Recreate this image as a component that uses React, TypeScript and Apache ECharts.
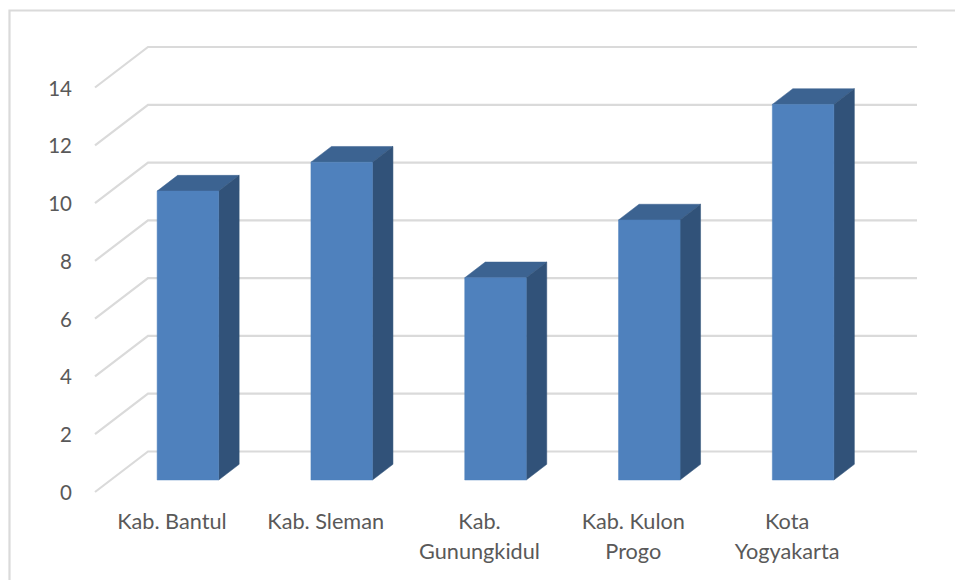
import React, { useEffect, useRef } from "react";
import * as echarts from "echarts";

const categories = ["Kab. Bantul", "Kab. Sleman", "Kab.\nGunungkidul", "Kab. Kulon\nProgo", "Kota\nYogyakarta"];
const seriesValues = [10, 11, 7, 9, 13];
const tickValues = [0, 2, 4, 6, 8, 10, 12, 14];

const WALL_DX = 53;
const WALL_DY = 40.5;
const BAR_SHIFT_X = 16;
const BAR_SHIFT_Y = 12;
const BAR_DEPTH_X = 20.5;
const BAR_DEPTH_Y = 15.7;
const BAR_RATIO = 0.4;

const GRID_COLOR = "#DADADA";
const TEXT_COLOR = "#595959";
const FRONT_COLOR = "#4F81BD";
const SIDE_COLOR = "#315279";
const TOP_COLOR = "#3C6391";

// Floor-to-wall gridline: a diagonal up the side wall, then across the back wall.
function renderGridLine(params: any, api: any) {
  const cs = params.coordSys;
  const y = api.coord([0, api.value(1)])[1];
  return {
    type: "polyline",
    silent: true,
    shape: {
      points: [
        [cs.x, y],
        [cs.x + WALL_DX, y - WALL_DY],
        [cs.x + WALL_DX + cs.width, y - WALL_DY],
      ],
    },
    style: { stroke: GRID_COLOR, lineWidth: 2.2, fill: "none" },
  };
}

// Extruded column: front face plus top and side faces, stroked in their own fill to close seams.
function renderColumn(params: any, api: any) {
  const top = api.coord([api.value(0), api.value(1)]);
  const base = api.coord([api.value(0), 0]);
  const width = api.size([1, 0])[0] * BAR_RATIO;
  const l = top[0] - width / 2 + BAR_SHIFT_X;
  const r = l + width;
  const t = top[1] - BAR_SHIFT_Y;
  const b = base[1] - BAR_SHIFT_Y;
  return {
    type: "group",
    children: [
      {
        type: "polygon",
        shape: { points: [[l, t], [l + BAR_DEPTH_X, t - BAR_DEPTH_Y], [r + BAR_DEPTH_X, t - BAR_DEPTH_Y], [r, t]] },
        style: { fill: TOP_COLOR, stroke: TOP_COLOR, lineWidth: 0.5 },
      },
      {
        type: "polygon",
        shape: { points: [[r, t], [r + BAR_DEPTH_X, t - BAR_DEPTH_Y], [r + BAR_DEPTH_X, b - BAR_DEPTH_Y], [r, b]] },
        style: { fill: SIDE_COLOR, stroke: SIDE_COLOR, lineWidth: 0.5 },
      },
      {
        type: "polygon",
        shape: { points: [[l, t], [r, t], [r, b], [l, b]] },
        style: { fill: FRONT_COLOR, stroke: FRONT_COLOR, lineWidth: 0.5 },
      },
    ],
  };
}

export default function App() {
  const ref = useRef<HTMLDivElement>(null);

  useEffect(() => {
    const chart = echarts.init(ref.current!, undefined, { renderer: "svg" });
    chart.setOption({
      animation: false,
      backgroundColor: "#FFFFFF",
      textStyle: { fontFamily: "Lato" },
      grid: { left: 95, right: 91, top: 87.5, bottom: 88 },
      graphic: [
        {
          type: "rect",
          silent: true,
          shape: { x: 9.5, y: 10.5, width: 1000, height: 620 },
          style: { fill: "none", stroke: GRID_COLOR, lineWidth: 2.2 },
        },
      ],
      xAxis: {
        type: "category",
        data: categories,
        axisLine: { show: false },
        axisTick: { show: false },
        axisLabel: { color: TEXT_COLOR, fontSize: 21.7, fontFamily: "Lato", lineHeight: 30, margin: 14, interval: 0 },
      },
      yAxis: {
        type: "value",
        min: 0,
        max: 14,
        interval: 2,
        axisLine: { show: false },
        axisTick: { show: false },
        splitLine: { show: false },
        axisLabel: { color: TEXT_COLOR, fontSize: 20.5, fontFamily: "Lato", margin: 23 },
      },
      series: [
        {
          type: "custom",
          z: 1,
          clip: false,
          silent: true,
          renderItem: renderGridLine,
          encode: { x: 0, y: 1 },
          data: tickValues.map((v) => [0, v]),
        },
        {
          type: "custom",
          z: 2,
          clip: false,
          silent: true,
          renderItem: renderColumn,
          encode: { x: 0, y: 1 },
          data: seriesValues.map((v, i) => [i, v]),
        },
      ],
    });
    return () => chart.dispose();
  }, []);

  return <div ref={ref} style={{ position: "absolute", left: 0, top: 0, width: 955, height: 580 }} />;
}
